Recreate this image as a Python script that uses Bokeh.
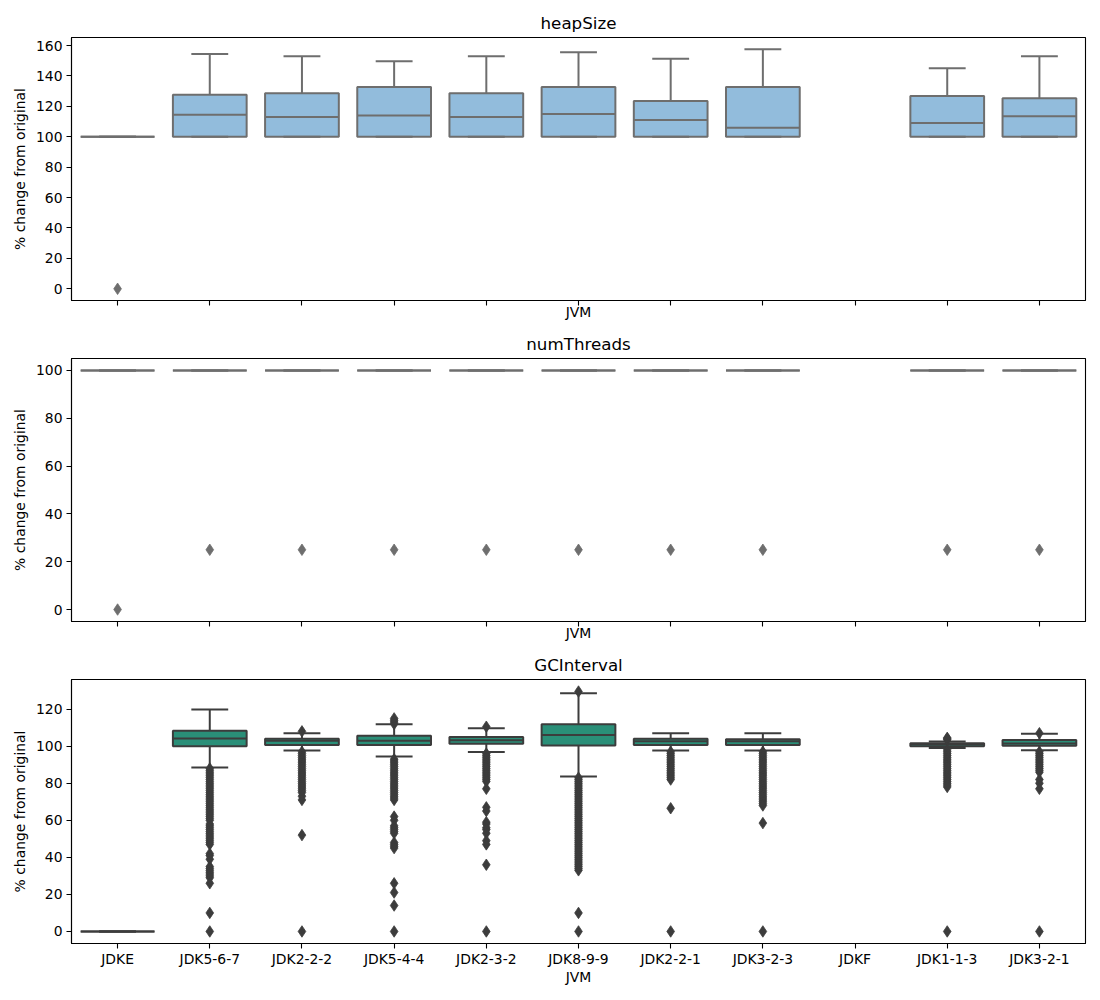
import numpy as np
from bokeh.plotting import figure
from bokeh.layouts import column
from bokeh.models import FixedTicker, ColumnDataSource, Range1d
from bokeh.embed import file_html
from bokeh.resources import INLINE

jvms = ["JDKE", "JDK5-6-7", "JDK2-2-2", "JDK5-4-4", "JDK2-3-2", "JDK8-9-9",
        "JDK2-2-1", "JDK3-2-3", "JDKF", "JDK1-1-3", "JDK3-2-1"]

# ---- heapSize ----
heap_q1 = [100, 100, 100, 100, 100, 100, 100, 100, None, 100, 100]
heap_med = [100, 114.5, 113, 114, 113, 115, 111, 106, None, 109, 113.5]
heap_q3 = [100, 127.6, 128.7, 132.7, 128.7, 132.7, 123.5, 132.7, None, 126.8, 125.4]
heap_lo = [100, 100, 100, 100, 100, 100, 100, 100, None, 100, 100]
heap_hi = [100, 154.5, 153, 149.7, 153, 155.6, 151.3, 157.6, None, 145, 153]
heap_fliers = [[0], [], [], [], [], [], [], [], [], [], []]

# ---- numThreads ----
thr_q1 = [100, 100, 100, 100, 100, 100, 100, 100, None, 100, 100]
thr_med = [100, 100, 100, 100, 100, 100, 100, 100, None, 100, 100]
thr_q3 = [100, 100, 100, 100, 100, 100, 100, 100, None, 100, 100]
thr_lo = [100, 100, 100, 100, 100, 100, 100, 100, None, 100, 100]
thr_hi = [100, 100, 100, 100, 100, 100, 100, 100, None, 100, 100]
thr_fliers = [[0], [25], [25], [25], [25], [25], [25], [25], [], [25], [25]]

# ---- GCInterval ----
gc_q1 = [0, 100, 100.7, 100.7, 101.3, 100.4, 100.7, 100.7, None, 100, 100.2]
gc_med = [0, 104.2, 102.9, 103, 103.2, 106.1, 102.7, 102.7, None, 101, 101.5]
gc_q3 = [0, 108.4, 104, 105.6, 105, 111.9, 104, 103.8, None, 101.6, 103.4]
gc_lo = [0, 88.5, 97.7, 94.4, 96.8, 83.6, 97.7, 97.7, None, 99, 97.8]
gc_hi = [0, 119.8, 107, 111.9, 109.7, 128.6, 107, 107, None, 102.6, 106.7]

gc_fl_jdke = []
gc_fl_jdk567 = [88, 87, 86, 85, 84, 83, 82, 81, 80, 79, 78, 77, 76, 75, 74, 73, 72, 71,
                70, 69, 68, 67, 66, 65, 64, 63, 62, 61, 60, 58, 57, 56, 55, 54, 53, 52,
                51, 50, 49, 48, 47, 42, 41, 39, 35, 34, 33, 32, 31, 30, 29, 26, 10, 0]
gc_fl_jdk222 = [108, 97, 96, 95, 94, 93, 92, 91, 90, 89, 88, 87, 86, 85, 84, 83, 82,
                81, 80, 79, 78, 77, 76, 75, 73, 71, 52, 0]
gc_fl_jdk544 = [112, 113, 114, 115, 93, 92, 91, 90, 89, 88, 87, 86, 85, 84, 83, 82, 81,
                80, 79, 78, 77, 76, 75, 74, 73, 72, 71, 62, 60, 57, 56, 55, 54, 53, 48,
                47, 46, 45, 26, 21, 14, 0]
gc_fl_jdk232 = [110.5, 96, 95, 94, 93, 92, 91, 90, 89, 88, 87, 86, 85, 84, 83, 82, 81,
                77, 67, 65, 59, 58, 56, 55, 53, 49, 47, 36, 0]
gc_fl_jdk899 = [129.5, 83, 82, 81, 80, 79, 78, 77, 76, 75, 74, 73, 72, 71, 70, 69, 68,
                67, 66, 65, 64, 63, 62, 61, 60, 59, 58, 57, 56, 55, 54, 53, 52, 51, 50,
                49, 48, 47, 46, 45, 44, 43, 42, 41, 40, 39, 38, 37, 36, 35, 34, 33, 10, 0]
gc_fl_jdk221 = [97, 96, 95, 94, 93, 92, 91, 90, 89, 88, 87, 86, 85, 84, 83, 82, 66.5, 0]
gc_fl_jdk323 = [97, 96, 95, 94, 93, 92, 91, 90, 89, 88, 87, 86, 85, 84, 83, 82, 81, 80,
                79, 78, 77, 76, 75, 74, 73, 72, 71, 70, 69, 68, 58.5, 0]
gc_fl_jdkf = []
gc_fl_jdk113 = [103.5, 104, 104.5, 98, 97, 96, 95, 94, 93, 92, 91, 90, 89, 88, 87, 86,
                85, 84, 83, 82, 81, 80, 79, 78, 0]
gc_fl_jdk321 = [107, 97, 96, 95, 94, 93, 92, 91, 90, 89, 88, 87, 86, 82, 80, 77, 0]
gc_fliers = [gc_fl_jdke, gc_fl_jdk567, gc_fl_jdk222, gc_fl_jdk544, gc_fl_jdk232,
             gc_fl_jdk899, gc_fl_jdk221, gc_fl_jdk323, gc_fl_jdkf, gc_fl_jdk113, gc_fl_jdk321]

FONT = "DejaVu Sans"


def panel(title, q1, med, q3, lo, hi, fliers, yr, yticks, fill, edge,
          top_border, bottom_border, frame_h, show_labels):
    p = figure(frame_width=1014, frame_height=frame_h,
               x_range=Range1d(-0.5, 10.5), y_range=Range1d(*yr),
               output_backend="svg", toolbar_location=None,
               min_border_left=71, min_border_right=15, min_border_top=top_border,
               min_border_bottom=bottom_border)
    p.title.text = title
    p.title.align = "center"
    p.title.text_font = FONT
    p.title.text_font_size = "16.7px"
    p.title.text_font_style = "normal"
    p.title.text_color = "black"
    p.title.standoff = 9
    p.xgrid.visible = False
    p.ygrid.visible = False
    p.outline_line_color = "black"
    p.outline_line_width = 1.1
    p.background_fill_color = "white"
    p.border_fill_color = "white"

    idx = [i for i in range(len(jvms)) if q1[i] is not None]
    x = np.array(idx, dtype=float)
    src = ColumnDataSource(dict(
        x=x, xl=x - 0.4, xr=x + 0.4, cl=x - 0.2, cr=x + 0.2,
        q1=[q1[i] for i in idx], med=[med[i] for i in idx], q3=[q3[i] for i in idx],
        lo=[lo[i] for i in idx], hi=[hi[i] for i in idx]))

    p.vbar(x="x", width=0.8, bottom="q1", top="q3", source=src,
           fill_color=fill, line_color=edge, line_width=2)
    p.segment(x0="x", x1="x", y0="q3", y1="hi", source=src, line_color=edge, line_width=2)
    p.segment(x0="x", x1="x", y0="q1", y1="lo", source=src, line_color=edge, line_width=2)
    p.segment(x0="cl", x1="cr", y0="hi", y1="hi", source=src, line_color=edge, line_width=2)
    p.segment(x0="cl", x1="cr", y0="lo", y1="lo", source=src, line_color=edge, line_width=2)
    p.segment(x0="xl", x1="xr", y0="med", y1="med", source=src, line_color=edge, line_width=2)

    fx, fy = [], []
    for i, vals in enumerate(fliers):
        for v in vals:
            fx.append(i)
            fy.append(v)
    p.scatter(fx, fy, marker="diamond", size=11.5, fill_color=edge, line_color=edge,
              line_width=0.8)

    p.xaxis.ticker = FixedTicker(ticks=list(range(len(jvms))))
    p.xaxis.major_label_overrides = {i: n for i, n in enumerate(jvms)}
    p.yaxis.ticker = FixedTicker(ticks=yticks)
    for ax in (p.xaxis[0], p.yaxis[0]):
        ax.axis_line_color = "black"
        ax.axis_line_width = 1.1
        ax.major_tick_line_color = "black"
        ax.major_tick_line_width = 1.1
        ax.major_tick_out = 5
        ax.major_tick_in = 0
        ax.minor_tick_line_color = None
        ax.major_label_text_font = FONT
        ax.major_label_text_font_size = "13.9px"
        ax.major_label_text_color = "black"
        ax.axis_label_text_font = FONT
        ax.axis_label_text_font_size = "13.9px"
        ax.axis_label_text_font_style = "normal"
        ax.axis_label_text_color = "black"
        ax.major_label_standoff = 4
    p.xaxis.axis_label = "JVM"
    p.yaxis.axis_label = "% change from original"
    p.yaxis.axis_label_standoff = 5
    if show_labels:
        p.xaxis.major_label_standoff = 2
        p.xaxis.axis_label_standoff = -1
    else:
        p.xaxis.major_label_text_color = None
        p.xaxis.major_label_standoff = 0
        p.xaxis.axis_label_standoff = -2
    return p


BLUE = "#92bcdc"
GRAY1 = "#6e6e6e"
TEAL = "#2a8f78"
GRAY3 = "#3c3c3c"

p1 = panel("heapSize", heap_q1, heap_med, heap_q3, heap_lo, heap_hi, heap_fliers,
           (-7.7, 165.3), [0, 20, 40, 60, 80, 100, 120, 140, 160], BLUE, GRAY1,
           37, 27, 263, False)
p2 = panel("numThreads", thr_q1, thr_med, thr_q3, thr_lo, thr_hi, thr_fliers,
           (-5, 105), [0, 20, 40, 60, 80, 100], BLUE, GRAY1,
           31, 27, 263, False)
p3 = panel("GCInterval", gc_q1, gc_med, gc_q3, gc_lo, gc_hi, gc_fliers,
           (-6.5, 136), [0, 20, 40, 60, 80, 100, 120], TEAL, GRAY3,
           30, 56, 264, True)

layout = column(p1, p2, p3, spacing=0)
open("out.html", "w").write(file_html(layout, INLINE))
